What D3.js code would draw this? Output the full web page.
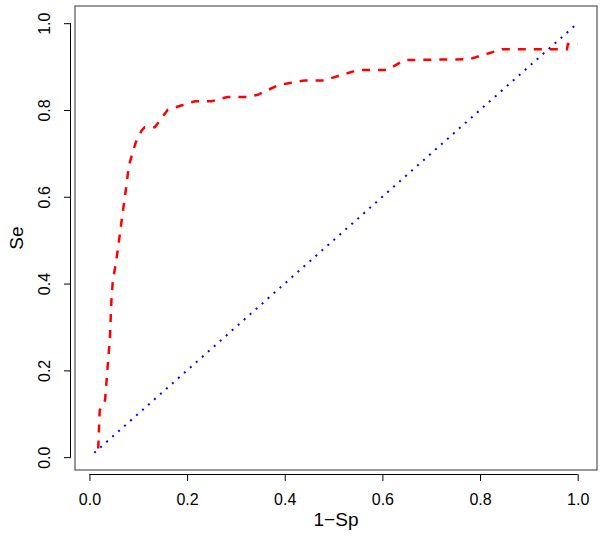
<!DOCTYPE html>
<html>
<head>
<meta charset="utf-8">
<script src="https://cdn.jsdelivr.net/npm/d3@7"></script>
<style>
  body { margin: 0; background: #fff; }
  text { font-family: "Liberation Sans", Arial, sans-serif; fill: #000; }
</style>
</head>
<body>
<div id="chart"></div>
<script>
// ROC curve: 1-Sp (false positive rate) against Se
var fpr = [0.018, 0.021, 0.032, 0.037, 0.042, 0.045, 0.048, 0.053, 0.058, 0.066,
           0.075, 0.081, 0.087, 0.095, 0.107, 0.113, 0.134, 0.160, 0.195, 0.216,
           0.250, 0.283, 0.324, 0.345, 0.386, 0.410, 0.440, 0.480, 0.549, 0.610,
           0.645, 0.778, 0.845, 0.978, 0.980, 1.000];
var se  = [0.020, 0.108, 0.131, 0.205, 0.276, 0.362, 0.408, 0.440, 0.477, 0.546,
           0.620, 0.673, 0.696, 0.726, 0.753, 0.760, 0.760, 0.800, 0.813, 0.820,
           0.820, 0.830, 0.830, 0.835, 0.857, 0.862, 0.868, 0.868, 0.892, 0.892,
           0.915, 0.917, 0.940, 0.940, 0.952, 0.952];
// reference diagonal
var diagX = [0.01, 1.0];
var diagY = [0.01, 1.0];
var ticks = [0, 0.2, 0.4, 0.6, 0.8, 1.0];

var full_width = 605, full_height = 546;
var box = {left: 75, right: 597, top: 6, bottom: 470};

// R style 4% padding around the data range
var lo = 0.01, hi = 1.0, pad = (hi - lo) * 0.04;
var x = d3.scaleLinear().domain([lo - pad, hi + pad]).range([box.left, box.right]);
var y = d3.scaleLinear().domain([lo - pad, hi + pad]).range([box.bottom, box.top]);

var svg = d3.select('#chart').append('svg')
	.attr('width', full_width)
	.attr('height', full_height);

var line = d3.line()
	.x(function(d) { return x(d[0]); })
	.y(function(d) { return y(d[1]); });

svg.append('path')
	.datum(d3.zip(diagX, diagY))
	.attr('d', line)
	.attr('fill', 'none')
	.attr('stroke', '#0000ff')
	.attr('stroke-width', 2)
	.attr('stroke-dasharray', '2,6');

svg.append('path')
	.datum(d3.zip(fpr, se))
	.attr('d', line)
	.attr('fill', 'none')
	.attr('stroke', '#ff0000')
	.attr('stroke-width', 2.5)
	.attr('stroke-dasharray', '8,8');

svg.append('rect')
	.attr('x', box.left)
	.attr('y', box.top)
	.attr('width', box.right - box.left)
	.attr('height', box.bottom - box.top)
	.attr('fill', 'none')
	.attr('stroke', '#333')
	.attr('stroke-width', 1);

var xAxis = svg.append('g')
	.attr('transform', 'translate(0,' + (box.bottom + 4) + ')')
	.call(d3.axisBottom(x).tickValues(ticks).tickFormat(d3.format('.1f')).tickSizeOuter(0).tickSize(7).tickPadding(13));
xAxis.select('.domain').attr('d', 'M' + x(0) + ',0.5H' + x(1));
xAxis.selectAll('text').style('font-size', '16px');

var yAxis = svg.append('g')
	.attr('transform', 'translate(' + (box.left - 4) + ',0)')
	.call(d3.axisLeft(y).tickValues(ticks).tickFormat(d3.format('.1f')).tickSizeOuter(0).tickSize(7));
yAxis.select('.domain').attr('d', 'M-0.5,' + y(0) + 'V' + y(1));
// R draws y tick labels parallel to the axis
yAxis.selectAll('.tick text')
	.style('font-size', '16px')
	.attr('x', 0).attr('y', 0).attr('dy', null)
	.attr('text-anchor', 'middle')
	.attr('transform', 'translate(-21,0) rotate(-90)');

svg.append('text')
	.attr('x', (box.left + box.right) / 2)
	.attr('y', 526)
	.attr('text-anchor', 'middle')
	.style('font-size', '19px')
	.text('1\u2212Sp');

svg.append('text')
	.attr('transform', 'translate(23,' + ((box.top + box.bottom) / 2) + ') rotate(-90)')
	.attr('text-anchor', 'middle')
	.style('font-size', '19px')
	.text('Se');
</script>
</body>
</html>
